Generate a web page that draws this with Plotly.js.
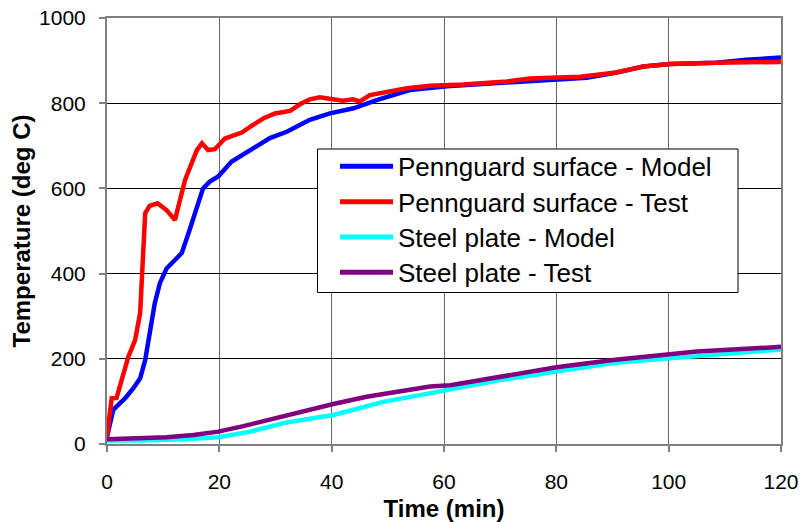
<!DOCTYPE html>
<html>
<head>
<meta charset="utf-8">
<script src="https://cdn.plot.ly/plotly-3.0.1.min.js"></script>
<style>html,body{margin:0;padding:0;background:#fff;}#chart{width:802px;height:522px;}</style>
</head>
<body>
<div id="chart"></div>
<script>
// ---- Data ----
const seriesNames = ['Pennguard surface - Model', 'Pennguard surface - Test', 'Steel plate - Model', 'Steel plate - Test'];
const seriesColors = ['#0000FF', '#FF0000', '#00FFFF', '#800080'];

const surfModelTime = [0, 1.1, 2, 3.2, 4.7, 5.9, 6.8, 7.6, 8.5, 9.4, 10.6, 12.1, 13.3, 14.5, 16, 17.1, 18.3, 19.8, 22.2, 24, 26.7, 29, 32, 34.4, 36.1, 39.7, 43.9, 48, 53.9, 60.5, 70, 78.9, 85.4, 90.7, 95.5, 100.2, 108.5, 113.8, 120];
const surfModelTemp = [17, 80, 92, 107, 131, 154, 197, 268, 330, 377, 412, 432, 448, 494, 557, 600, 616, 628, 663, 678, 698, 718, 733, 749, 761, 776, 788, 807, 831, 840, 848, 857, 860, 872, 886, 892, 895, 902, 907];

const surfTestTime = [0, 0.83, 1.7, 2.6, 3.8, 5, 5.9, 6.8, 7.6, 9, 10.6, 12.1, 13.9, 16, 16.9, 18, 19.2, 21, 22.5, 24, 26, 27.8, 29.9, 32.6, 34.4, 36.1, 37.9, 40.2, 42, 43.8, 45, 46.8, 49.2, 53.4, 57.5, 63.4, 71.2, 75.3, 84.2, 90.7, 95.5, 100.2, 108.5, 113.8, 120];
const surfTestTemp = [17, 107, 108, 150, 205, 244, 307, 542, 559, 565, 549, 526, 620, 690, 706, 690, 692, 717, 725, 731, 749, 764, 776, 782, 798, 809, 814, 809, 806, 809, 804, 819, 825, 835, 841, 844, 851, 858, 862, 872, 886, 892, 895, 897, 897];

const plateModelTime = [0, 6, 13.6, 19.8, 25.5, 31.4, 35.5, 40.3, 49.2, 61.1, 70, 80, 90.1, 100.2, 120];
const plateModelTemp = [8, 8, 11, 16, 29, 49, 58, 68, 99, 128, 150, 170, 190, 201, 222];

const plateTestTime = [0, 4.7, 10.6, 15.4, 19.8, 24.3, 29.6, 35.5, 40.3, 46.2, 52.2, 57.5, 61.1, 70, 80, 90.1, 100.2, 105, 120];
const plateTestTemp = [11, 12.5, 16, 21, 29, 42, 60, 80, 94, 111, 123, 135, 138, 157, 180, 197, 209, 217, 228];

const xTicks = [0, 20, 40, 60, 80, 100, 120];
const yTicks = [0, 200, 400, 600, 800, 1000];

// ---- Layout geometry (pixels) ----
const W = 802, H = 522;
const M = {l: 107, r: 21, t: 18, b: 78};
const plotW = W - M.l - M.r, plotH = H - M.t - M.b;
const px2x = px => (px - M.l) / plotW;
const py2y = py => (H - M.b - py) / plotH;

const FONT = '"Liberation Sans", Arial, Helvetica, sans-serif';

const xs = [surfModelTime, surfTestTime, plateModelTime, plateTestTime];
const ys = [surfModelTemp, surfTestTemp, plateModelTemp, plateTestTemp];

const traces = seriesNames.map((name, i) => ({
  type: 'scatter', mode: 'lines', name: name,
  x: xs[i], y: ys[i],
  line: {color: seriesColors[i], width: 4.5},
  showlegend: false, hoverinfo: 'x+y+name'
}));

// Legend drawn as a framed box with line samples and text
const legendRows = [166.3, 201.7, 237, 272.3];
const shapes = [{
  type: 'rect', xref: 'paper', yref: 'paper', layer: 'above',
  x0: px2x(317.5), x1: px2x(738), y0: py2y(292.5), y1: py2y(149),
  line: {color: '#000000', width: 1}, fillcolor: '#FFFFFF'
}];
const annotations = [];
seriesNames.forEach((name, i) => {
  shapes.push({
    type: 'line', xref: 'paper', yref: 'paper', layer: 'above',
    x0: px2x(340), x1: px2x(393), y0: py2y(legendRows[i]), y1: py2y(legendRows[i]),
    line: {color: seriesColors[i], width: 5}
  });
  annotations.push({
    xref: 'paper', yref: 'paper', x: px2x(396), y: py2y(legendRows[i] + 1),
    xanchor: 'left', yanchor: 'middle', showarrow: false,
    text: name, font: {family: FONT, size: 26, color: '#000000'}
  });
});

const layout = {
  width: W, height: H,
  margin: M,
  paper_bgcolor: '#FFFFFF', plot_bgcolor: '#FFFFFF',
  font: {family: FONT, color: '#000000'},
  showlegend: false,
  xaxis: {
    range: [0, 120], tickvals: xTicks, ticktext: xTicks.map(String),
    showgrid: true, gridcolor: '#666666', gridwidth: 1,
    zeroline: false,
    showline: true, linecolor: '#808080', linewidth: 2, mirror: true,
    ticks: 'outside', ticklen: 6, tickwidth: 2, tickcolor: '#808080',
    ticklabelstandoff: 12,
    tickfont: {family: FONT, size: 21, color: '#000000'},
    title: {text: '<b>Time (min)</b>', font: {family: FONT, size: 24, color: '#000000'}, standoff: 11}
  },
  yaxis: {
    range: [0, 1000], tickvals: yTicks, ticktext: yTicks.map(String),
    showgrid: true, gridcolor: '#000000', gridwidth: 1,
    zeroline: false,
    showline: true, linecolor: '#808080', linewidth: 2, mirror: true,
    ticks: 'outside', ticklen: 6, tickwidth: 2, tickcolor: '#808080',
    ticklabelstandoff: 9,
    tickfont: {family: FONT, size: 21, color: '#000000'},
    title: {text: '<b>Temperature (deg C)</b>', font: {family: FONT, size: 24, color: '#000000'}, standoff: 2}
  },
  shapes: shapes,
  annotations: annotations
};

Plotly.newPlot('chart', traces, layout, {staticPlot: true, displayModeBar: false});
</script>
</body>
</html>
